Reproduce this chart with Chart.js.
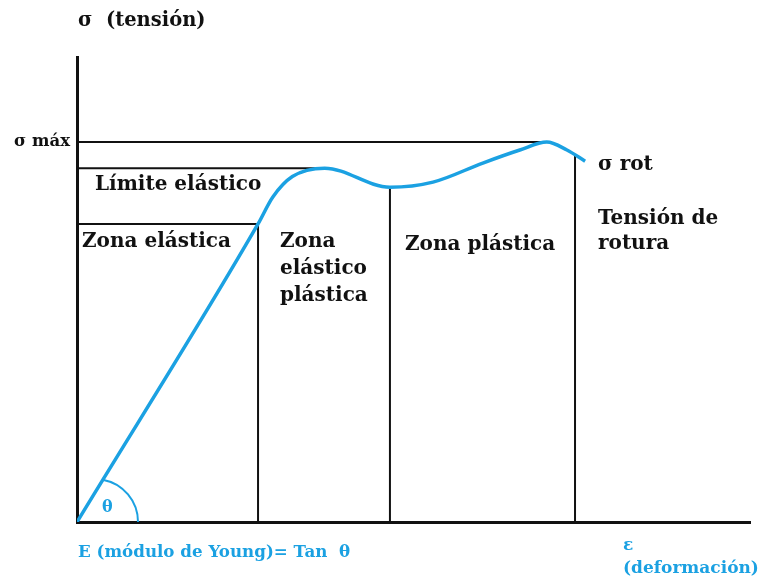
<!DOCTYPE html>
<html>
<head>
<meta charset="utf-8">
<script src="https://cdn.jsdelivr.net/npm/chart.js@4.4.1/dist/chart.umd.min.js"></script>
<style>
  html, body { margin: 0; padding: 0; background: #fff; }
  #wrap { width: 763px; height: 579px; }
</style>
</head>
<body>
<div id="wrap"><canvas id="stressChart"></canvas></div>
<script>
// deformación (x) / tensión (y), arbitrary units 0..100
const curveX = [0, 26.9, 29.1, 32.0, 36.8, 46.5, 52.9, 60.3, 65.8, 69.8, 72.8, 75.5];
const curveY = [0, 64.1, 69.9, 74.3, 76.1, 72.0, 73.1, 77.2, 80.0, 81.7, 80.0, 77.6];

const sigmaMax = 81.7;     // σ máx
const limiteY = 76.1;      // límite elástico
const proporcionalY = 64.1;
const zoneX = [26.9, 46.5, 74.0];
const zoneTop = [64.1, 72.0, 78.9];
const sigmaMaxX = 69.8;
const limiteX = 36.8;

const yTickLabels = ['σ máx'];

const BLUE = '#1ba1e2';
const INK = '#111';
const SERIF = "'DejaVu Serif', 'Liberation Serif', serif";

const pts = (xs, ys) => xs.map((x, i) => ({ x, y: ys[i] }));

const blackLine = (data) => ({
  data,
  borderColor: INK,
  borderWidth: 2,
  pointRadius: 0,
  tension: 0,
  order: 5
});

const datasets = [
  {
    data: pts(curveX, curveY),
    borderColor: BLUE,
    borderWidth: 3.5,
    pointRadius: 0,
    cubicInterpolationMode: 'monotone',
    order: 1
  },
  blackLine([{ x: 0, y: sigmaMax }, { x: sigmaMaxX, y: sigmaMax }]),
  blackLine([{ x: 0, y: limiteY }, { x: limiteX, y: limiteY }]),
  blackLine([{ x: 0, y: proporcionalY }, { x: zoneX[0], y: proporcionalY }])
];
zoneX.forEach((x, i) => {
  datasets.push(blackLine([{ x, y: 0 }, { x, y: zoneTop[i] }]));
});

// texts and the θ arc
const labelsPlugin = {
  id: 'labels',
  afterDatasetsDraw(chart) {
    const { ctx } = chart;
    const xs = chart.scales.x, ys = chart.scales.y;
    ctx.save();

    // angle arc, centre a little right of the origin
    const ox = xs.getPixelForValue(0), oy = ys.getPixelForValue(0);
    const ex = xs.getPixelForValue(curveX[1]), ey = ys.getPixelForValue(curveY[1]);
    const a = Math.atan2(oy - ey, ex - ox);
    const off = 18, r = 43;
    const t = off * Math.cos(a) + Math.sqrt(off * off * Math.cos(a) ** 2 + r * r - off * off);
    const px = ox + t * Math.cos(a), py = oy - t * Math.sin(a);
    const start = Math.atan2(py - oy, px - (ox + off));
    ctx.strokeStyle = BLUE;
    ctx.lineWidth = 2;
    ctx.beginPath();
    ctx.arc(ox + off, oy, r, start, 0);
    ctx.stroke();

    const text = (s, x, y, size, color, align) => {
      ctx.font = `bold ${size}px ${SERIF}`;
      ctx.fillStyle = color || INK;
      ctx.textAlign = align || 'left';
      ctx.textBaseline = 'middle';
      ctx.fillText(s, x, y);
    };

    text('σ  (tensión)', 78, 21, 19.5);
    text('Límite elástico', 95, 185, 20);
    text('Zona elástica', 82, 242, 20);
    text('Zona', 280, 242, 20);
    text('elástico', 280, 269, 20);
    text('plástica', 280, 296, 20);
    text('Zona plástica', 405, 245, 20);
    text('σ rot', 598, 165, 20);
    text('Tensión de', 598, 219, 20);
    text('rotura', 598, 244, 20);
    text('θ', 102, 508, 16, BLUE);
    text('E (módulo de Young)= Tan  θ', 78, 553, 16.7, BLUE);
    text('ε', 623, 546, 17, BLUE);
    text('(deformación)', 623, 569, 17, BLUE);
    ctx.restore();
  }
};

new Chart(document.getElementById('stressChart'), {
  type: 'line',
  data: { datasets },
  options: {
    responsive: true,
    maintainAspectRatio: false,
    animation: false,
    layout: { padding: { top: 57, right: 13, bottom: 0, left: 0 } },
    plugins: {
      legend: { display: false },
      tooltip: { enabled: false }
    },
    scales: {
      x: {
        type: 'linear',
        min: 0,
        max: 100,
        grid: { color: 'rgba(0,0,0,0)', drawTicks: false },
        border: { color: INK, width: 3 },
        ticks: { display: false },
        afterFit: (scale) => { scale.height = 57; }
      },
      y: {
        type: 'linear',
        min: 0,
        max: 100,
        grid: { color: 'rgba(0,0,0,0)', drawTicks: false },
        border: { color: INK, width: 3 },
        afterBuildTicks: (scale) => { scale.ticks = [{ value: sigmaMax }]; },
        ticks: {
          color: INK,
          padding: 7,
          font: { family: SERIF, size: 16.5, weight: 'bold' },
          callback: () => yTickLabels[0]
        },
        afterFit: (scale) => { scale.width = 77; }
      }
    }
  },
  plugins: [labelsPlugin]
});
</script>
</body>
</html>
